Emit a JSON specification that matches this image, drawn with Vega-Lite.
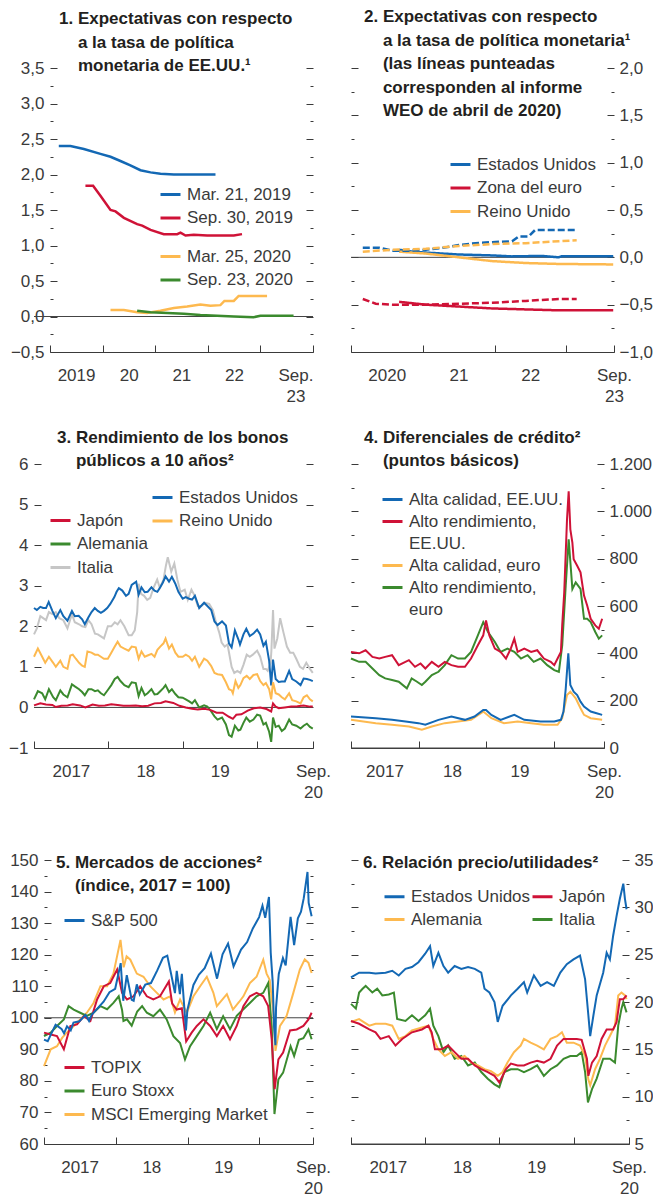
{
"$schema":"https://vega.github.io/schema/vega-lite/v6.json",
"padding":{"left":8,"top":8,"right":0,"bottom":0},
"autosize":"pad",
"bounds":"flush",
"columns":2,
"spacing":{"row":112,"column":38},
"resolve":{"scale":{"color":"independent","stroke":"independent","strokeDash":"independent"}},
"config":{
 "font":"Liberation Sans",
 "locale":{"number":{"decimal":",","thousands":".","grouping":[3],"currency":["","€"]}},
 "view":{"stroke":null},
 "axis":{"labelFont":"Liberation Sans","labelFontSize":17,"labelColor":"#3a3a3a","tickColor":"#3a3a3a","domainColor":"#3a3a3a","domainWidth":1,"tickWidth":1,"grid":false,"labelOverlap":false,"labelFlush":false},
 "legend":{"symbolType":"stroke","symbolSize":400,"symbolStrokeWidth":3,"labelFontSize":17,"labelFont":"Liberation Sans","labelColor":"#3a3a3a","rowPadding":3.5,"padding":0,"labelOffset":5,"labelLimit":400},
 "title":{"font":"Liberation Sans","fontSize":17,"fontWeight":"bold","color":"#231f20","anchor":"start","frame":"group","baseline":"top","lineHeight":23.5}
},
"datasets":{
"p1":[
{"s":"Mar. 21, 2019","d":"2019-03-03","v":2.40},{"s":"Mar. 21, 2019","d":"2019-05-23","v":2.40},{"s":"Mar. 21, 2019","d":"2019-08-24","v":2.36},{"s":"Mar. 21, 2019","d":"2019-12-17","v":2.29},{"s":"Mar. 21, 2019","d":"2020-02-25","v":2.25},{"s":"Mar. 21, 2019","d":"2020-05-04","v":2.19},{"s":"Mar. 21, 2019","d":"2020-07-12","v":2.13},{"s":"Mar. 21, 2019","d":"2020-09-20","v":2.06},{"s":"Mar. 21, 2019","d":"2020-11-29","v":2.03},{"s":"Mar. 21, 2019","d":"2021-02-06","v":2.01},{"s":"Mar. 21, 2019","d":"2021-05-10","v":2.00},{"s":"Mar. 21, 2019","d":"2022-02-23","v":2.00},
{"s":"Sep. 30, 2019","d":"2019-09-04","v":1.84},{"s":"Sep. 30, 2019","d":"2019-10-27","v":1.84},{"s":"Sep. 30, 2019","d":"2019-12-17","v":1.70},{"s":"Sep. 30, 2019","d":"2020-02-25","v":1.50},{"s":"Sep. 30, 2019","d":"2020-03-31","v":1.48},{"s":"Sep. 30, 2019","d":"2020-05-28","v":1.39},{"s":"Sep. 30, 2019","d":"2020-08-28","v":1.30},{"s":"Sep. 30, 2019","d":"2020-10-02","v":1.28},{"s":"Sep. 30, 2019","d":"2020-11-29","v":1.22},{"s":"Sep. 30, 2019","d":"2021-03-01","v":1.16},{"s":"Sep. 30, 2019","d":"2021-06-02","v":1.16},{"s":"Sep. 30, 2019","d":"2021-06-25","v":1.18},{"s":"Sep. 30, 2019","d":"2021-07-30","v":1.14},{"s":"Sep. 30, 2019","d":"2021-09-25","v":1.15},{"s":"Sep. 30, 2019","d":"2021-12-27","v":1.14},{"s":"Sep. 30, 2019","d":"2022-06-30","v":1.14},{"s":"Sep. 30, 2019","d":"2022-08-26","v":1.16},
{"s":"Mar. 25, 2020","d":"2020-02-25","v":0.09},{"s":"Mar. 25, 2020","d":"2020-05-28","v":0.09},{"s":"Mar. 25, 2020","d":"2020-08-28","v":0.06},{"s":"Mar. 25, 2020","d":"2020-11-05","v":0.05},{"s":"Mar. 25, 2020","d":"2021-02-06","v":0.08},{"s":"Mar. 25, 2020","d":"2021-05-10","v":0.12},{"s":"Mar. 25, 2020","d":"2021-08-10","v":0.14},{"s":"Mar. 25, 2020","d":"2021-11-10","v":0.17},{"s":"Mar. 25, 2020","d":"2022-01-19","v":0.15},{"s":"Mar. 25, 2020","d":"2022-03-29","v":0.16},{"s":"Mar. 25, 2020","d":"2022-04-26","v":0.22},{"s":"Mar. 25, 2020","d":"2022-06-30","v":0.22},{"s":"Mar. 25, 2020","d":"2022-08-03","v":0.29},{"s":"Mar. 25, 2020","d":"2023-02-16","v":0.29},
{"s":"Sep. 23, 2020","d":"2020-08-28","v":0.08},{"s":"Sep. 23, 2020","d":"2020-11-29","v":0.06},{"s":"Sep. 23, 2020","d":"2021-03-25","v":0.05},{"s":"Sep. 23, 2020","d":"2021-07-18","v":0.04},{"s":"Sep. 23, 2020","d":"2021-11-10","v":0.02},{"s":"Sep. 23, 2020","d":"2022-03-06","v":0.01},{"s":"Sep. 23, 2020","d":"2022-06-30","v":0.0},{"s":"Sep. 23, 2020","d":"2022-11-14","v":-0.01},{"s":"Sep. 23, 2020","d":"2023-01-01","v":0.01},{"s":"Sep. 23, 2020","d":"2023-08-19","v":0.01}
],
"p2":[
{"s":"Estados Unidos","t":"a","d":"2020-09-02","v":0.08},{"s":"Estados Unidos","t":"a","d":"2020-11-08","v":0.06},{"s":"Estados Unidos","t":"a","d":"2021-01-16","v":0.05},{"s":"Estados Unidos","t":"a","d":"2021-04-10","v":0.04},{"s":"Estados Unidos","t":"a","d":"2021-07-03","v":0.03},{"s":"Estados Unidos","t":"a","d":"2021-09-26","v":0.025},{"s":"Estados Unidos","t":"a","d":"2021-12-20","v":0.02},{"s":"Estados Unidos","t":"a","d":"2022-03-31","v":0.01},{"s":"Estados Unidos","t":"a","d":"2022-08-30","v":0.015},{"s":"Estados Unidos","t":"a","d":"2022-11-23","v":0.0},{"s":"Estados Unidos","t":"a","d":"2022-12-09","v":0.012},{"s":"Estados Unidos","t":"a","d":"2023-08-28","v":0.012},
{"s":"Zona del euro","t":"a","d":"2020-09-02","v":-0.47},{"s":"Zona del euro","t":"a","d":"2021-01-16","v":-0.50},{"s":"Zona del euro","t":"a","d":"2021-07-03","v":-0.52},{"s":"Zona del euro","t":"a","d":"2021-12-20","v":-0.54},{"s":"Zona del euro","t":"a","d":"2022-06-08","v":-0.55},{"s":"Zona del euro","t":"a","d":"2022-11-23","v":-0.56},{"s":"Zona del euro","t":"a","d":"2023-08-28","v":-0.56},
{"s":"Reino Unido","t":"a","d":"2020-09-02","v":0.06},{"s":"Reino Unido","t":"a","d":"2021-01-16","v":0.04},{"s":"Reino Unido","t":"a","d":"2021-07-03","v":0.0},{"s":"Reino Unido","t":"a","d":"2021-12-20","v":-0.04},{"s":"Reino Unido","t":"a","d":"2022-06-08","v":-0.06},{"s":"Reino Unido","t":"a","d":"2022-11-23","v":-0.07},{"s":"Reino Unido","t":"a","d":"2023-08-28","v":-0.075},
{"s":"Estados Unidos","t":"w","d":"2020-03-01","v":0.10},{"s":"Estados Unidos","t":"w","d":"2020-05-24","v":0.10},{"s":"Estados Unidos","t":"w","d":"2020-07-31","v":0.07},{"s":"Estados Unidos","t":"w","d":"2020-10-23","v":0.07},{"s":"Estados Unidos","t":"w","d":"2021-01-16","v":0.08},{"s":"Estados Unidos","t":"w","d":"2021-04-10","v":0.10},{"s":"Estados Unidos","t":"w","d":"2021-07-03","v":0.13},{"s":"Estados Unidos","t":"w","d":"2021-09-26","v":0.15},{"s":"Estados Unidos","t":"w","d":"2021-12-20","v":0.16},{"s":"Estados Unidos","t":"w","d":"2022-03-31","v":0.17},{"s":"Estados Unidos","t":"w","d":"2022-05-04","v":0.22},{"s":"Estados Unidos","t":"w","d":"2022-06-23","v":0.22},{"s":"Estados Unidos","t":"w","d":"2022-07-27","v":0.29},{"s":"Estados Unidos","t":"w","d":"2023-02-23","v":0.29},
{"s":"Reino Unido","t":"w","d":"2020-03-01","v":0.06},{"s":"Reino Unido","t":"w","d":"2020-07-31","v":0.08},{"s":"Reino Unido","t":"w","d":"2021-01-16","v":0.09},{"s":"Reino Unido","t":"w","d":"2021-07-03","v":0.12},{"s":"Reino Unido","t":"w","d":"2021-12-20","v":0.14},{"s":"Reino Unido","t":"w","d":"2022-06-08","v":0.15},{"s":"Reino Unido","t":"w","d":"2022-11-23","v":0.17},{"s":"Reino Unido","t":"w","d":"2023-02-23","v":0.18},
{"s":"Zona del euro","t":"w","d":"2020-03-01","v":-0.44},{"s":"Zona del euro","t":"w","d":"2020-05-06","v":-0.49},{"s":"Zona del euro","t":"w","d":"2020-07-31","v":-0.50},{"s":"Zona del euro","t":"w","d":"2021-01-16","v":-0.50},{"s":"Zona del euro","t":"w","d":"2021-07-03","v":-0.49},{"s":"Zona del euro","t":"w","d":"2021-12-20","v":-0.48},{"s":"Zona del euro","t":"w","d":"2022-06-08","v":-0.46},{"s":"Zona del euro","t":"w","d":"2022-11-23","v":-0.44},{"s":"Zona del euro","t":"w","d":"2023-02-23","v":-0.44}
],
"p3":[
{"s":"Italia","d":"2017-01-01","v":1.80},{"s":"Italia","d":"2017-01-15","v":1.95},{"s":"Italia","d":"2017-02-01","v":2.25},{"s":"Italia","d":"2017-02-15","v":2.20},{"s":"Italia","d":"2017-03-01","v":2.15},{"s":"Italia","d":"2017-03-15","v":2.35},{"s":"Italia","d":"2017-04-01","v":2.30},{"s":"Italia","d":"2017-04-18","v":2.35},{"s":"Italia","d":"2017-05-05","v":2.20},{"s":"Italia","d":"2017-05-25","v":2.15},{"s":"Italia","d":"2017-06-14","v":1.95},{"s":"Italia","d":"2017-07-06","v":2.30},{"s":"Italia","d":"2017-07-20","v":2.10},{"s":"Italia","d":"2017-08-10","v":2.05},{"s":"Italia","d":"2017-08-25","v":2.00},{"s":"Italia","d":"2017-09-10","v":1.98},{"s":"Italia","d":"2017-09-25","v":2.15},{"s":"Italia","d":"2017-10-10","v":2.05},{"s":"Italia","d":"2017-10-27","v":1.82},{"s":"Italia","d":"2017-11-10","v":1.80},{"s":"Italia","d":"2017-11-25","v":1.75},{"s":"Italia","d":"2017-12-10","v":1.70},{"s":"Italia","d":"2017-12-29","v":2.00},{"s":"Italia","d":"2018-01-15","v":2.00},{"s":"Italia","d":"2018-02-01","v":2.10},{"s":"Italia","d":"2018-02-15","v":2.05},{"s":"Italia","d":"2018-03-01","v":2.15},{"s":"Italia","d":"2018-03-20","v":2.00},{"s":"Italia","d":"2018-04-10","v":1.78},{"s":"Italia","d":"2018-04-25","v":1.78},{"s":"Italia","d":"2018-05-10","v":1.90},{"s":"Italia","d":"2018-05-22","v":2.35},{"s":"Italia","d":"2018-05-29","v":3.05},{"s":"Italia","d":"2018-06-10","v":2.80},{"s":"Italia","d":"2018-06-25","v":2.75},{"s":"Italia","d":"2018-07-10","v":2.65},{"s":"Italia","d":"2018-07-25","v":2.70},{"s":"Italia","d":"2018-08-10","v":2.95},{"s":"Italia","d":"2018-08-28","v":3.15},{"s":"Italia","d":"2018-09-10","v":2.95},{"s":"Italia","d":"2018-09-28","v":3.15},{"s":"Italia","d":"2018-10-10","v":3.50},{"s":"Italia","d":"2018-10-19","v":3.70},{"s":"Italia","d":"2018-11-05","v":3.35},{"s":"Italia","d":"2018-11-20","v":3.55},{"s":"Italia","d":"2018-12-05","v":3.15},{"s":"Italia","d":"2018-12-20","v":2.85},{"s":"Italia","d":"2019-01-10","v":2.90},{"s":"Italia","d":"2019-01-25","v":2.65},{"s":"Italia","d":"2019-02-12","v":2.90},{"s":"Italia","d":"2019-02-28","v":2.75},{"s":"Italia","d":"2019-03-15","v":2.50},{"s":"Italia","d":"2019-04-01","v":2.50},{"s":"Italia","d":"2019-04-20","v":2.58},{"s":"Italia","d":"2019-05-10","v":2.55},{"s":"Italia","d":"2019-05-28","v":2.40},{"s":"Italia","d":"2019-06-12","v":2.10},{"s":"Italia","d":"2019-06-28","v":1.85},{"s":"Italia","d":"2019-07-10","v":1.60},{"s":"Italia","d":"2019-07-25","v":1.50},{"s":"Italia","d":"2019-08-08","v":1.55},{"s":"Italia","d":"2019-08-28","v":1.00},{"s":"Italia","d":"2019-09-10","v":0.85},{"s":"Italia","d":"2019-09-25","v":0.90},{"s":"Italia","d":"2019-10-10","v":0.85},{"s":"Italia","d":"2019-10-25","v":1.05},{"s":"Italia","d":"2019-11-10","v":1.30},{"s":"Italia","d":"2019-11-25","v":1.25},{"s":"Italia","d":"2019-12-10","v":1.30},{"s":"Italia","d":"2019-12-31","v":1.40},{"s":"Italia","d":"2020-01-15","v":1.25},{"s":"Italia","d":"2020-01-31","v":0.95},{"s":"Italia","d":"2020-02-12","v":0.95},{"s":"Italia","d":"2020-02-21","v":0.90},{"s":"Italia","d":"2020-03-06","v":1.10},{"s":"Italia","d":"2020-03-10","v":1.40},{"s":"Italia","d":"2020-03-18","v":2.40},{"s":"Italia","d":"2020-03-25","v":1.45},{"s":"Italia","d":"2020-04-08","v":1.70},{"s":"Italia","d":"2020-04-22","v":2.20},{"s":"Italia","d":"2020-05-08","v":1.85},{"s":"Italia","d":"2020-05-25","v":1.50},{"s":"Italia","d":"2020-06-10","v":1.35},{"s":"Italia","d":"2020-06-25","v":1.35},{"s":"Italia","d":"2020-07-10","v":1.20},{"s":"Italia","d":"2020-07-28","v":1.00},{"s":"Italia","d":"2020-08-12","v":0.95},{"s":"Italia","d":"2020-08-28","v":1.10},{"s":"Italia","d":"2020-09-15","v":0.95},{"s":"Italia","d":"2020-09-29","v":0.85},
{"s":"Estados Unidos","d":"2017-01-01","v":2.45},{"s":"Estados Unidos","d":"2017-01-15","v":2.40},{"s":"Estados Unidos","d":"2017-02-01","v":2.48},{"s":"Estados Unidos","d":"2017-02-15","v":2.45},{"s":"Estados Unidos","d":"2017-03-01","v":2.45},{"s":"Estados Unidos","d":"2017-03-14","v":2.60},{"s":"Estados Unidos","d":"2017-04-01","v":2.38},{"s":"Estados Unidos","d":"2017-04-18","v":2.20},{"s":"Estados Unidos","d":"2017-05-10","v":2.40},{"s":"Estados Unidos","d":"2017-05-25","v":2.25},{"s":"Estados Unidos","d":"2017-06-14","v":2.14},{"s":"Estados Unidos","d":"2017-07-06","v":2.38},{"s":"Estados Unidos","d":"2017-07-20","v":2.25},{"s":"Estados Unidos","d":"2017-08-08","v":2.26},{"s":"Estados Unidos","d":"2017-08-25","v":2.17},{"s":"Estados Unidos","d":"2017-09-07","v":2.05},{"s":"Estados Unidos","d":"2017-09-25","v":2.22},{"s":"Estados Unidos","d":"2017-10-10","v":2.35},{"s":"Estados Unidos","d":"2017-10-26","v":2.45},{"s":"Estados Unidos","d":"2017-11-10","v":2.38},{"s":"Estados Unidos","d":"2017-11-25","v":2.33},{"s":"Estados Unidos","d":"2017-12-10","v":2.38},{"s":"Estados Unidos","d":"2017-12-26","v":2.45},{"s":"Estados Unidos","d":"2018-01-10","v":2.55},{"s":"Estados Unidos","d":"2018-01-30","v":2.72},{"s":"Estados Unidos","d":"2018-02-10","v":2.85},{"s":"Estados Unidos","d":"2018-02-21","v":2.94},{"s":"Estados Unidos","d":"2018-03-10","v":2.88},{"s":"Estados Unidos","d":"2018-03-28","v":2.75},{"s":"Estados Unidos","d":"2018-04-10","v":2.80},{"s":"Estados Unidos","d":"2018-04-25","v":3.02},{"s":"Estados Unidos","d":"2018-05-17","v":3.10},{"s":"Estados Unidos","d":"2018-05-29","v":2.78},{"s":"Estados Unidos","d":"2018-06-12","v":2.96},{"s":"Estados Unidos","d":"2018-06-28","v":2.84},{"s":"Estados Unidos","d":"2018-07-12","v":2.85},{"s":"Estados Unidos","d":"2018-07-31","v":2.96},{"s":"Estados Unidos","d":"2018-08-15","v":2.88},{"s":"Estados Unidos","d":"2018-08-29","v":2.85},{"s":"Estados Unidos","d":"2018-09-12","v":2.96},{"s":"Estados Unidos","d":"2018-09-25","v":3.08},{"s":"Estados Unidos","d":"2018-10-08","v":3.23},{"s":"Estados Unidos","d":"2018-10-25","v":3.10},{"s":"Estados Unidos","d":"2018-11-08","v":3.22},{"s":"Estados Unidos","d":"2018-11-25","v":3.05},{"s":"Estados Unidos","d":"2018-12-10","v":2.85},{"s":"Estados Unidos","d":"2018-12-31","v":2.68},{"s":"Estados Unidos","d":"2019-01-15","v":2.72},{"s":"Estados Unidos","d":"2019-02-01","v":2.68},{"s":"Estados Unidos","d":"2019-02-15","v":2.66},{"s":"Estados Unidos","d":"2019-03-01","v":2.75},{"s":"Estados Unidos","d":"2019-03-22","v":2.45},{"s":"Estados Unidos","d":"2019-04-15","v":2.58},{"s":"Estados Unidos","d":"2019-05-01","v":2.50},{"s":"Estados Unidos","d":"2019-05-20","v":2.40},{"s":"Estados Unidos","d":"2019-06-05","v":2.12},{"s":"Estados Unidos","d":"2019-06-20","v":2.03},{"s":"Estados Unidos","d":"2019-07-12","v":2.12},{"s":"Estados Unidos","d":"2019-07-31","v":2.02},{"s":"Estados Unidos","d":"2019-08-15","v":1.58},{"s":"Estados Unidos","d":"2019-08-28","v":1.48},{"s":"Estados Unidos","d":"2019-09-13","v":1.90},{"s":"Estados Unidos","d":"2019-09-30","v":1.68},{"s":"Estados Unidos","d":"2019-10-08","v":1.55},{"s":"Estados Unidos","d":"2019-10-25","v":1.80},{"s":"Estados Unidos","d":"2019-11-08","v":1.94},{"s":"Estados Unidos","d":"2019-11-25","v":1.76},{"s":"Estados Unidos","d":"2019-12-13","v":1.82},{"s":"Estados Unidos","d":"2019-12-31","v":1.92},{"s":"Estados Unidos","d":"2020-01-15","v":1.80},{"s":"Estados Unidos","d":"2020-01-31","v":1.52},{"s":"Estados Unidos","d":"2020-02-12","v":1.62},{"s":"Estados Unidos","d":"2020-02-28","v":1.15},{"s":"Estados Unidos","d":"2020-03-09","v":0.54},{"s":"Estados Unidos","d":"2020-03-18","v":1.18},{"s":"Estados Unidos","d":"2020-03-31","v":0.70},{"s":"Estados Unidos","d":"2020-04-15","v":0.63},{"s":"Estados Unidos","d":"2020-04-30","v":0.64},{"s":"Estados Unidos","d":"2020-05-15","v":0.64},{"s":"Estados Unidos","d":"2020-06-05","v":0.90},{"s":"Estados Unidos","d":"2020-06-20","v":0.70},{"s":"Estados Unidos","d":"2020-07-10","v":0.64},{"s":"Estados Unidos","d":"2020-07-31","v":0.55},{"s":"Estados Unidos","d":"2020-08-15","v":0.71},{"s":"Estados Unidos","d":"2020-08-31","v":0.70},{"s":"Estados Unidos","d":"2020-09-15","v":0.68},{"s":"Estados Unidos","d":"2020-09-29","v":0.65},
{"s":"Reino Unido","d":"2017-01-01","v":1.25},{"s":"Reino Unido","d":"2017-01-20","v":1.45},{"s":"Reino Unido","d":"2017-02-10","v":1.25},{"s":"Reino Unido","d":"2017-02-25","v":1.10},{"s":"Reino Unido","d":"2017-03-15","v":1.25},{"s":"Reino Unido","d":"2017-04-05","v":1.10},{"s":"Reino Unido","d":"2017-04-18","v":1.00},{"s":"Reino Unido","d":"2017-05-10","v":1.15},{"s":"Reino Unido","d":"2017-05-25","v":1.00},{"s":"Reino Unido","d":"2017-06-14","v":0.95},{"s":"Reino Unido","d":"2017-06-28","v":1.28},{"s":"Reino Unido","d":"2017-07-10","v":1.30},{"s":"Reino Unido","d":"2017-07-25","v":1.20},{"s":"Reino Unido","d":"2017-08-10","v":1.10},{"s":"Reino Unido","d":"2017-08-25","v":1.03},{"s":"Reino Unido","d":"2017-09-07","v":1.00},{"s":"Reino Unido","d":"2017-09-20","v":1.38},{"s":"Reino Unido","d":"2017-10-10","v":1.35},{"s":"Reino Unido","d":"2017-10-27","v":1.30},{"s":"Reino Unido","d":"2017-11-10","v":1.30},{"s":"Reino Unido","d":"2017-11-25","v":1.25},{"s":"Reino Unido","d":"2017-12-10","v":1.20},{"s":"Reino Unido","d":"2017-12-29","v":1.20},{"s":"Reino Unido","d":"2018-01-15","v":1.35},{"s":"Reino Unido","d":"2018-02-01","v":1.50},{"s":"Reino Unido","d":"2018-02-15","v":1.62},{"s":"Reino Unido","d":"2018-03-01","v":1.50},{"s":"Reino Unido","d":"2018-03-20","v":1.45},{"s":"Reino Unido","d":"2018-04-10","v":1.40},{"s":"Reino Unido","d":"2018-04-25","v":1.50},{"s":"Reino Unido","d":"2018-05-15","v":1.48},{"s":"Reino Unido","d":"2018-05-29","v":1.20},{"s":"Reino Unido","d":"2018-06-12","v":1.38},{"s":"Reino Unido","d":"2018-06-28","v":1.25},{"s":"Reino Unido","d":"2018-07-12","v":1.28},{"s":"Reino Unido","d":"2018-07-31","v":1.32},{"s":"Reino Unido","d":"2018-08-15","v":1.25},{"s":"Reino Unido","d":"2018-08-29","v":1.42},{"s":"Reino Unido","d":"2018-09-12","v":1.50},{"s":"Reino Unido","d":"2018-09-28","v":1.58},{"s":"Reino Unido","d":"2018-10-08","v":1.70},{"s":"Reino Unido","d":"2018-10-25","v":1.45},{"s":"Reino Unido","d":"2018-11-08","v":1.55},{"s":"Reino Unido","d":"2018-11-25","v":1.35},{"s":"Reino Unido","d":"2018-12-10","v":1.25},{"s":"Reino Unido","d":"2018-12-31","v":1.25},{"s":"Reino Unido","d":"2019-01-15","v":1.30},{"s":"Reino Unido","d":"2019-02-01","v":1.25},{"s":"Reino Unido","d":"2019-02-15","v":1.15},{"s":"Reino Unido","d":"2019-03-01","v":1.25},{"s":"Reino Unido","d":"2019-03-22","v":1.00},{"s":"Reino Unido","d":"2019-04-15","v":1.20},{"s":"Reino Unido","d":"2019-05-01","v":1.15},{"s":"Reino Unido","d":"2019-05-20","v":1.02},{"s":"Reino Unido","d":"2019-06-05","v":0.85},{"s":"Reino Unido","d":"2019-06-20","v":0.82},{"s":"Reino Unido","d":"2019-07-12","v":0.80},{"s":"Reino Unido","d":"2019-07-31","v":0.62},{"s":"Reino Unido","d":"2019-08-15","v":0.45},{"s":"Reino Unido","d":"2019-08-28","v":0.42},{"s":"Reino Unido","d":"2019-09-03","v":0.35},{"s":"Reino Unido","d":"2019-09-16","v":0.65},{"s":"Reino Unido","d":"2019-09-30","v":0.48},{"s":"Reino Unido","d":"2019-10-10","v":0.55},{"s":"Reino Unido","d":"2019-10-25","v":0.72},{"s":"Reino Unido","d":"2019-11-10","v":0.78},{"s":"Reino Unido","d":"2019-11-25","v":0.70},{"s":"Reino Unido","d":"2019-12-13","v":0.80},{"s":"Reino Unido","d":"2019-12-31","v":0.82},{"s":"Reino Unido","d":"2020-01-15","v":0.65},{"s":"Reino Unido","d":"2020-01-31","v":0.55},{"s":"Reino Unido","d":"2020-02-12","v":0.60},{"s":"Reino Unido","d":"2020-02-28","v":0.45},{"s":"Reino Unido","d":"2020-03-09","v":0.20},{"s":"Reino Unido","d":"2020-03-18","v":0.62},{"s":"Reino Unido","d":"2020-03-31","v":0.35},{"s":"Reino Unido","d":"2020-04-15","v":0.32},{"s":"Reino Unido","d":"2020-04-30","v":0.25},{"s":"Reino Unido","d":"2020-05-15","v":0.20},{"s":"Reino Unido","d":"2020-06-05","v":0.35},{"s":"Reino Unido","d":"2020-06-20","v":0.18},{"s":"Reino Unido","d":"2020-07-10","v":0.15},{"s":"Reino Unido","d":"2020-07-31","v":0.10},{"s":"Reino Unido","d":"2020-08-15","v":0.25},{"s":"Reino Unido","d":"2020-08-31","v":0.30},{"s":"Reino Unido","d":"2020-09-15","v":0.20},{"s":"Reino Unido","d":"2020-09-29","v":0.15},
{"s":"Alemania","d":"2017-01-01","v":0.20},{"s":"Alemania","d":"2017-01-20","v":0.40},{"s":"Alemania","d":"2017-02-10","v":0.35},{"s":"Alemania","d":"2017-02-25","v":0.20},{"s":"Alemania","d":"2017-03-15","v":0.45},{"s":"Alemania","d":"2017-04-05","v":0.25},{"s":"Alemania","d":"2017-04-18","v":0.18},{"s":"Alemania","d":"2017-05-10","v":0.42},{"s":"Alemania","d":"2017-05-25","v":0.32},{"s":"Alemania","d":"2017-06-14","v":0.25},{"s":"Alemania","d":"2017-07-06","v":0.57},{"s":"Alemania","d":"2017-07-20","v":0.52},{"s":"Alemania","d":"2017-08-10","v":0.45},{"s":"Alemania","d":"2017-08-25","v":0.38},{"s":"Alemania","d":"2017-09-07","v":0.30},{"s":"Alemania","d":"2017-09-25","v":0.45},{"s":"Alemania","d":"2017-10-10","v":0.45},{"s":"Alemania","d":"2017-10-27","v":0.40},{"s":"Alemania","d":"2017-11-10","v":0.42},{"s":"Alemania","d":"2017-11-25","v":0.35},{"s":"Alemania","d":"2017-12-10","v":0.30},{"s":"Alemania","d":"2017-12-29","v":0.43},{"s":"Alemania","d":"2018-01-15","v":0.55},{"s":"Alemania","d":"2018-02-01","v":0.70},{"s":"Alemania","d":"2018-02-15","v":0.75},{"s":"Alemania","d":"2018-03-01","v":0.65},{"s":"Alemania","d":"2018-03-20","v":0.55},{"s":"Alemania","d":"2018-04-10","v":0.50},{"s":"Alemania","d":"2018-04-25","v":0.62},{"s":"Alemania","d":"2018-05-15","v":0.60},{"s":"Alemania","d":"2018-05-29","v":0.28},{"s":"Alemania","d":"2018-06-12","v":0.48},{"s":"Alemania","d":"2018-06-28","v":0.30},{"s":"Alemania","d":"2018-07-12","v":0.35},{"s":"Alemania","d":"2018-07-31","v":0.45},{"s":"Alemania","d":"2018-08-15","v":0.32},{"s":"Alemania","d":"2018-08-29","v":0.33},{"s":"Alemania","d":"2018-09-12","v":0.40},{"s":"Alemania","d":"2018-09-28","v":0.48},{"s":"Alemania","d":"2018-10-08","v":0.55},{"s":"Alemania","d":"2018-10-25","v":0.38},{"s":"Alemania","d":"2018-11-08","v":0.45},{"s":"Alemania","d":"2018-11-25","v":0.33},{"s":"Alemania","d":"2018-12-10","v":0.25},{"s":"Alemania","d":"2018-12-31","v":0.24},{"s":"Alemania","d":"2019-01-15","v":0.20},{"s":"Alemania","d":"2019-02-01","v":0.15},{"s":"Alemania","d":"2019-02-15","v":0.10},{"s":"Alemania","d":"2019-03-01","v":0.18},{"s":"Alemania","d":"2019-03-22","v":0.00},{"s":"Alemania","d":"2019-04-15","v":0.05},{"s":"Alemania","d":"2019-05-01","v":0.02},{"s":"Alemania","d":"2019-05-20","v":-0.10},{"s":"Alemania","d":"2019-06-05","v":-0.22},{"s":"Alemania","d":"2019-06-20","v":-0.30},{"s":"Alemania","d":"2019-07-12","v":-0.25},{"s":"Alemania","d":"2019-07-31","v":-0.42},{"s":"Alemania","d":"2019-08-15","v":-0.68},{"s":"Alemania","d":"2019-08-28","v":-0.72},{"s":"Alemania","d":"2019-09-13","v":-0.45},{"s":"Alemania","d":"2019-09-30","v":-0.57},{"s":"Alemania","d":"2019-10-10","v":-0.55},{"s":"Alemania","d":"2019-10-25","v":-0.38},{"s":"Alemania","d":"2019-11-08","v":-0.25},{"s":"Alemania","d":"2019-11-25","v":-0.35},{"s":"Alemania","d":"2019-12-13","v":-0.30},{"s":"Alemania","d":"2019-12-31","v":-0.18},{"s":"Alemania","d":"2020-01-15","v":-0.20},{"s":"Alemania","d":"2020-01-31","v":-0.42},{"s":"Alemania","d":"2020-02-12","v":-0.38},{"s":"Alemania","d":"2020-02-28","v":-0.60},{"s":"Alemania","d":"2020-03-09","v":-0.85},{"s":"Alemania","d":"2020-03-18","v":-0.25},{"s":"Alemania","d":"2020-03-31","v":-0.48},{"s":"Alemania","d":"2020-04-15","v":-0.45},{"s":"Alemania","d":"2020-04-30","v":-0.58},{"s":"Alemania","d":"2020-05-15","v":-0.52},{"s":"Alemania","d":"2020-06-05","v":-0.30},{"s":"Alemania","d":"2020-06-20","v":-0.42},{"s":"Alemania","d":"2020-07-10","v":-0.45},{"s":"Alemania","d":"2020-07-31","v":-0.52},{"s":"Alemania","d":"2020-08-15","v":-0.45},{"s":"Alemania","d":"2020-08-31","v":-0.40},{"s":"Alemania","d":"2020-09-15","v":-0.48},{"s":"Alemania","d":"2020-09-29","v":-0.52},
{"s":"Japón","d":"2017-01-01","v":0.05},{"s":"Japón","d":"2017-02-01","v":0.10},{"s":"Japón","d":"2017-03-01","v":0.07},{"s":"Japón","d":"2017-04-01","v":0.06},{"s":"Japón","d":"2017-04-18","v":0.01},{"s":"Japón","d":"2017-05-15","v":0.04},{"s":"Japón","d":"2017-06-15","v":0.05},{"s":"Japón","d":"2017-07-10","v":0.08},{"s":"Japón","d":"2017-08-15","v":0.05},{"s":"Japón","d":"2017-09-10","v":0.00},{"s":"Japón","d":"2017-10-15","v":0.07},{"s":"Japón","d":"2017-11-15","v":0.04},{"s":"Japón","d":"2017-12-15","v":0.05},{"s":"Japón","d":"2018-01-15","v":0.08},{"s":"Japón","d":"2018-02-15","v":0.06},{"s":"Japón","d":"2018-03-15","v":0.04},{"s":"Japón","d":"2018-04-15","v":0.04},{"s":"Japón","d":"2018-05-15","v":0.05},{"s":"Japón","d":"2018-06-15","v":0.03},{"s":"Japón","d":"2018-07-15","v":0.04},{"s":"Japón","d":"2018-08-15","v":0.10},{"s":"Japón","d":"2018-09-15","v":0.11},{"s":"Japón","d":"2018-10-08","v":0.15},{"s":"Japón","d":"2018-11-15","v":0.11},{"s":"Japón","d":"2018-12-15","v":0.04},{"s":"Japón","d":"2019-01-15","v":0.00},{"s":"Japón","d":"2019-02-15","v":-0.03},{"s":"Japón","d":"2019-03-15","v":-0.05},{"s":"Japón","d":"2019-04-15","v":-0.03},{"s":"Japón","d":"2019-05-15","v":-0.06},{"s":"Japón","d":"2019-06-15","v":-0.13},{"s":"Japón","d":"2019-07-15","v":-0.13},{"s":"Japón","d":"2019-08-15","v":-0.23},{"s":"Japón","d":"2019-09-03","v":-0.28},{"s":"Japón","d":"2019-09-20","v":-0.18},{"s":"Japón","d":"2019-10-15","v":-0.17},{"s":"Japón","d":"2019-11-15","v":-0.08},{"s":"Japón","d":"2019-12-15","v":-0.02},{"s":"Japón","d":"2020-01-15","v":0.00},{"s":"Japón","d":"2020-02-15","v":-0.04},{"s":"Japón","d":"2020-03-09","v":-0.10},{"s":"Japón","d":"2020-03-18","v":0.10},{"s":"Japón","d":"2020-03-31","v":0.02},{"s":"Japón","d":"2020-04-15","v":-0.02},{"s":"Japón","d":"2020-05-15","v":0.00},{"s":"Japón","d":"2020-06-15","v":0.02},{"s":"Japón","d":"2020-07-15","v":0.03},{"s":"Japón","d":"2020-08-15","v":0.05},{"s":"Japón","d":"2020-09-15","v":0.02},{"s":"Japón","d":"2020-09-29","v":0.02}
],
"p4":[
{"s":"Alto rendimiento, euro","d":"2017-01-01","v":378},{"s":"Alto rendimiento, euro","d":"2017-02-14","v":364},{"s":"Alto rendimiento, euro","d":"2017-03-21","v":364},{"s":"Alto rendimiento, euro","d":"2017-04-27","v":336},{"s":"Alto rendimiento, euro","d":"2017-06-03","v":308},{"s":"Alto rendimiento, euro","d":"2017-07-05","v":294},{"s":"Alto rendimiento, euro","d":"2017-08-11","v":287},{"s":"Alto rendimiento, euro","d":"2017-09-16","v":280},{"s":"Alto rendimiento, euro","d":"2017-10-30","v":252},{"s":"Alto rendimiento, euro","d":"2017-11-25","v":294},{"s":"Alto rendimiento, euro","d":"2017-12-24","v":280},{"s":"Alto rendimiento, euro","d":"2018-01-19","v":266},{"s":"Alto rendimiento, euro","d":"2018-02-07","v":280},{"s":"Alto rendimiento, euro","d":"2018-03-14","v":308},{"s":"Alto rendimiento, euro","d":"2018-04-19","v":322},{"s":"Alto rendimiento, euro","d":"2018-05-23","v":350},{"s":"Alto rendimiento, euro","d":"2018-06-28","v":392},{"s":"Alto rendimiento, euro","d":"2018-08-03","v":378},{"s":"Alto rendimiento, euro","d":"2018-09-09","v":378},{"s":"Alto rendimiento, euro","d":"2018-10-12","v":406},{"s":"Alto rendimiento, euro","d":"2018-11-18","v":476},{"s":"Alto rendimiento, euro","d":"2018-12-17","v":532},{"s":"Alto rendimiento, euro","d":"2019-01-12","v":490},{"s":"Alto rendimiento, euro","d":"2019-02-18","v":448},{"s":"Alto rendimiento, euro","d":"2019-03-21","v":406},{"s":"Alto rendimiento, euro","d":"2019-04-27","v":420},{"s":"Alto rendimiento, euro","d":"2019-06-03","v":406},{"s":"Alto rendimiento, euro","d":"2019-07-09","v":378},{"s":"Alto rendimiento, euro","d":"2019-08-14","v":392},{"s":"Alto rendimiento, euro","d":"2019-09-16","v":364},{"s":"Alto rendimiento, euro","d":"2019-10-23","v":378},{"s":"Alto rendimiento, euro","d":"2019-11-28","v":350},{"s":"Alto rendimiento, euro","d":"2020-01-05","v":329},{"s":"Alto rendimiento, euro","d":"2020-01-30","v":322},{"s":"Alto rendimiento, euro","d":"2020-02-17","v":434},{"s":"Alto rendimiento, euro","d":"2020-03-07","v":686},{"s":"Alto rendimiento, euro","d":"2020-03-23","v":882},{"s":"Alto rendimiento, euro","d":"2020-04-12","v":672},{"s":"Alto rendimiento, euro","d":"2020-04-30","v":700},{"s":"Alto rendimiento, euro","d":"2020-05-26","v":672},{"s":"Alto rendimiento, euro","d":"2020-06-14","v":546},{"s":"Alto rendimiento, euro","d":"2020-07-01","v":546},{"s":"Alto rendimiento, euro","d":"2020-07-20","v":532},{"s":"Alto rendimiento, euro","d":"2020-08-14","v":490},{"s":"Alto rendimiento, euro","d":"2020-09-02","v":462},{"s":"Alto rendimiento, euro","d":"2020-09-20","v":476},
{"s":"Alto rendimiento, EE.UU.","d":"2017-01-01","v":406},{"s":"Alto rendimiento, EE.UU.","d":"2017-02-14","v":400},{"s":"Alto rendimiento, EE.UU.","d":"2017-03-21","v":413},{"s":"Alto rendimiento, EE.UU.","d":"2017-04-27","v":385},{"s":"Alto rendimiento, EE.UU.","d":"2017-06-03","v":378},{"s":"Alto rendimiento, EE.UU.","d":"2017-07-05","v":385},{"s":"Alto rendimiento, EE.UU.","d":"2017-08-11","v":392},{"s":"Alto rendimiento, EE.UU.","d":"2017-09-16","v":350},{"s":"Alto rendimiento, EE.UU.","d":"2017-11-10","v":371},{"s":"Alto rendimiento, EE.UU.","d":"2017-12-13","v":343},{"s":"Alto rendimiento, EE.UU.","d":"2018-01-12","v":357},{"s":"Alto rendimiento, EE.UU.","d":"2018-02-07","v":336},{"s":"Alto rendimiento, EE.UU.","d":"2018-03-14","v":364},{"s":"Alto rendimiento, EE.UU.","d":"2018-04-19","v":343},{"s":"Alto rendimiento, EE.UU.","d":"2018-05-23","v":364},{"s":"Alto rendimiento, EE.UU.","d":"2018-06-28","v":350},{"s":"Alto rendimiento, EE.UU.","d":"2018-08-03","v":343},{"s":"Alto rendimiento, EE.UU.","d":"2018-09-09","v":343},{"s":"Alto rendimiento, EE.UU.","d":"2018-10-12","v":378},{"s":"Alto rendimiento, EE.UU.","d":"2018-11-18","v":434},{"s":"Alto rendimiento, EE.UU.","d":"2018-12-17","v":476},{"s":"Alto rendimiento, EE.UU.","d":"2019-01-01","v":539},{"s":"Alto rendimiento, EE.UU.","d":"2019-01-19","v":476},{"s":"Alto rendimiento, EE.UU.","d":"2019-02-18","v":420},{"s":"Alto rendimiento, EE.UU.","d":"2019-03-21","v":406},{"s":"Alto rendimiento, EE.UU.","d":"2019-04-19","v":378},{"s":"Alto rendimiento, EE.UU.","d":"2019-05-15","v":420},{"s":"Alto rendimiento, EE.UU.","d":"2019-06-03","v":462},{"s":"Alto rendimiento, EE.UU.","d":"2019-06-21","v":406},{"s":"Alto rendimiento, EE.UU.","d":"2019-07-27","v":420},{"s":"Alto rendimiento, EE.UU.","d":"2019-09-02","v":406},{"s":"Alto rendimiento, EE.UU.","d":"2019-10-05","v":413},{"s":"Alto rendimiento, EE.UU.","d":"2019-11-10","v":378},{"s":"Alto rendimiento, EE.UU.","d":"2019-12-17","v":364},{"s":"Alto rendimiento, EE.UU.","d":"2020-01-05","v":350},{"s":"Alto rendimiento, EE.UU.","d":"2020-01-23","v":378},{"s":"Alto rendimiento, EE.UU.","d":"2020-02-10","v":406},{"s":"Alto rendimiento, EE.UU.","d":"2020-02-17","v":518},{"s":"Alto rendimiento, EE.UU.","d":"2020-02-28","v":658},{"s":"Alto rendimiento, EE.UU.","d":"2020-03-14","v":966},{"s":"Alto rendimiento, EE.UU.","d":"2020-03-23","v":1085},{"s":"Alto rendimiento, EE.UU.","d":"2020-04-01","v":924},{"s":"Alto rendimiento, EE.UU.","d":"2020-04-12","v":868},{"s":"Alto rendimiento, EE.UU.","d":"2020-04-19","v":798},{"s":"Alto rendimiento, EE.UU.","d":"2020-05-08","v":770},{"s":"Alto rendimiento, EE.UU.","d":"2020-05-26","v":742},{"s":"Alto rendimiento, EE.UU.","d":"2020-06-14","v":644},{"s":"Alto rendimiento, EE.UU.","d":"2020-07-01","v":602},{"s":"Alto rendimiento, EE.UU.","d":"2020-07-20","v":546},{"s":"Alto rendimiento, EE.UU.","d":"2020-08-14","v":518},{"s":"Alto rendimiento, EE.UU.","d":"2020-09-02","v":504},{"s":"Alto rendimiento, EE.UU.","d":"2020-09-20","v":546},
{"s":"Alta calidad, euro","d":"2017-01-01","v":119},{"s":"Alta calidad, euro","d":"2017-05-15","v":105},{"s":"Alta calidad, euro","d":"2017-08-11","v":98},{"s":"Alta calidad, euro","d":"2017-11-10","v":91},{"s":"Alta calidad, euro","d":"2018-01-19","v":77},{"s":"Alta calidad, euro","d":"2018-03-14","v":91},{"s":"Alta calidad, euro","d":"2018-05-23","v":105},{"s":"Alta calidad, euro","d":"2018-08-03","v":112},{"s":"Alta calidad, euro","d":"2018-10-12","v":119},{"s":"Alta calidad, euro","d":"2018-12-17","v":154},{"s":"Alta calidad, euro","d":"2019-01-30","v":126},{"s":"Alta calidad, euro","d":"2019-04-08","v":105},{"s":"Alta calidad, euro","d":"2019-06-21","v":112},{"s":"Alta calidad, euro","d":"2019-09-02","v":105},{"s":"Alta calidad, euro","d":"2019-11-10","v":98},{"s":"Alta calidad, euro","d":"2020-01-23","v":98},{"s":"Alta calidad, euro","d":"2020-02-17","v":126},{"s":"Alta calidad, euro","d":"2020-03-14","v":224},{"s":"Alta calidad, euro","d":"2020-04-01","v":238},{"s":"Alta calidad, euro","d":"2020-04-30","v":210},{"s":"Alta calidad, euro","d":"2020-05-26","v":168},{"s":"Alta calidad, euro","d":"2020-06-14","v":140},{"s":"Alta calidad, euro","d":"2020-07-20","v":126},{"s":"Alta calidad, euro","d":"2020-09-20","v":119},
{"s":"Alta calidad, EE.UU.","d":"2017-01-01","v":133},{"s":"Alta calidad, EE.UU.","d":"2017-05-15","v":126},{"s":"Alta calidad, EE.UU.","d":"2017-08-11","v":119},{"s":"Alta calidad, EE.UU.","d":"2017-10-23","v":112},{"s":"Alta calidad, EE.UU.","d":"2018-01-01","v":105},{"s":"Alta calidad, EE.UU.","d":"2018-02-07","v":98},{"s":"Alta calidad, EE.UU.","d":"2018-04-19","v":119},{"s":"Alta calidad, EE.UU.","d":"2018-06-28","v":133},{"s":"Alta calidad, EE.UU.","d":"2018-09-09","v":119},{"s":"Alta calidad, EE.UU.","d":"2018-10-31","v":133},{"s":"Alta calidad, EE.UU.","d":"2018-12-17","v":161},{"s":"Alta calidad, EE.UU.","d":"2019-01-01","v":161},{"s":"Alta calidad, EE.UU.","d":"2019-01-30","v":140},{"s":"Alta calidad, EE.UU.","d":"2019-03-21","v":119},{"s":"Alta calidad, EE.UU.","d":"2019-06-03","v":140},{"s":"Alta calidad, EE.UU.","d":"2019-07-27","v":119},{"s":"Alta calidad, EE.UU.","d":"2019-10-23","v":112},{"s":"Alta calidad, EE.UU.","d":"2020-01-05","v":112},{"s":"Alta calidad, EE.UU.","d":"2020-02-10","v":119},{"s":"Alta calidad, EE.UU.","d":"2020-02-24","v":154},{"s":"Alta calidad, EE.UU.","d":"2020-03-07","v":250},{"s":"Alta calidad, EE.UU.","d":"2020-03-21","v":400},{"s":"Alta calidad, EE.UU.","d":"2020-04-01","v":266},{"s":"Alta calidad, EE.UU.","d":"2020-04-19","v":238},{"s":"Alta calidad, EE.UU.","d":"2020-05-08","v":224},{"s":"Alta calidad, EE.UU.","d":"2020-05-26","v":196},{"s":"Alta calidad, EE.UU.","d":"2020-06-14","v":175},{"s":"Alta calidad, EE.UU.","d":"2020-07-20","v":154},{"s":"Alta calidad, EE.UU.","d":"2020-08-21","v":147},{"s":"Alta calidad, EE.UU.","d":"2020-09-20","v":140}
],
"p5":[
{"s":"MSCI Emerging Market","d":"2017-01-01","v":84.7},{"s":"MSCI Emerging Market","d":"2017-02-04","v":90.0},{"s":"MSCI Emerging Market","d":"2017-03-08","v":91.0},{"s":"MSCI Emerging Market","d":"2017-04-04","v":93.7},{"s":"MSCI Emerging Market","d":"2017-04-27","v":95.3},{"s":"MSCI Emerging Market","d":"2017-06-01","v":97.4},{"s":"MSCI Emerging Market","d":"2017-07-04","v":99.5},{"s":"MSCI Emerging Market","d":"2017-08-07","v":101.6},{"s":"MSCI Emerging Market","d":"2017-09-10","v":104.7},{"s":"MSCI Emerging Market","d":"2017-10-15","v":110.0},{"s":"MSCI Emerging Market","d":"2017-11-18","v":110.0},{"s":"MSCI Emerging Market","d":"2017-12-20","v":114.0},{"s":"MSCI Emerging Market","d":"2018-01-25","v":124.7},{"s":"MSCI Emerging Market","d":"2018-02-10","v":116.0},{"s":"MSCI Emerging Market","d":"2018-02-25","v":119.5},{"s":"MSCI Emerging Market","d":"2018-03-16","v":118.4},{"s":"MSCI Emerging Market","d":"2018-04-18","v":114.0},{"s":"MSCI Emerging Market","d":"2018-05-22","v":113.0},{"s":"MSCI Emerging Market","d":"2018-06-25","v":110.0},{"s":"MSCI Emerging Market","d":"2018-07-29","v":107.9},{"s":"MSCI Emerging Market","d":"2018-09-01","v":105.8},{"s":"MSCI Emerging Market","d":"2018-10-04","v":106.8},{"s":"MSCI Emerging Market","d":"2018-10-29","v":101.7},{"s":"MSCI Emerging Market","d":"2018-11-24","v":105.8},{"s":"MSCI Emerging Market","d":"2018-12-28","v":101.6},{"s":"MSCI Emerging Market","d":"2019-01-31","v":106.8},{"s":"MSCI Emerging Market","d":"2019-03-06","v":110.0},{"s":"MSCI Emerging Market","d":"2019-04-09","v":113.0},{"s":"MSCI Emerging Market","d":"2019-05-12","v":108.0},{"s":"MSCI Emerging Market","d":"2019-05-30","v":103.7},{"s":"MSCI Emerging Market","d":"2019-07-20","v":107.5},{"s":"MSCI Emerging Market","d":"2019-08-20","v":102.6},{"s":"MSCI Emerging Market","d":"2019-09-20","v":105.0},{"s":"MSCI Emerging Market","d":"2019-10-12","v":106.8},{"s":"MSCI Emerging Market","d":"2019-11-14","v":111.0},{"s":"MSCI Emerging Market","d":"2019-12-18","v":113.0},{"s":"MSCI Emerging Market","d":"2020-01-21","v":118.4},{"s":"MSCI Emerging Market","d":"2020-02-07","v":114.0},{"s":"MSCI Emerging Market","d":"2020-02-23","v":112.0},{"s":"MSCI Emerging Market","d":"2020-03-12","v":101.6},{"s":"MSCI Emerging Market","d":"2020-03-23","v":89.5},{"s":"MSCI Emerging Market","d":"2020-04-15","v":97.4},{"s":"MSCI Emerging Market","d":"2020-05-19","v":100.6},{"s":"MSCI Emerging Market","d":"2020-06-22","v":107.9},{"s":"MSCI Emerging Market","d":"2020-07-25","v":115.3},{"s":"MSCI Emerging Market","d":"2020-08-19","v":118.5},{"s":"MSCI Emerging Market","d":"2020-09-07","v":117.4},{"s":"MSCI Emerging Market","d":"2020-09-23","v":114.2},
{"s":"Euro Stoxx","d":"2017-01-01","v":94.2},{"s":"Euro Stoxx","d":"2017-02-04","v":95.3},{"s":"Euro Stoxx","d":"2017-03-08","v":97.4},{"s":"Euro Stoxx","d":"2017-04-12","v":99.5},{"s":"Euro Stoxx","d":"2017-05-06","v":103.7},{"s":"Euro Stoxx","d":"2017-06-01","v":102.6},{"s":"Euro Stoxx","d":"2017-07-04","v":101.6},{"s":"Euro Stoxx","d":"2017-08-07","v":100.6},{"s":"Euro Stoxx","d":"2017-09-10","v":101.6},{"s":"Euro Stoxx","d":"2017-10-15","v":103.7},{"s":"Euro Stoxx","d":"2017-11-18","v":102.7},{"s":"Euro Stoxx","d":"2017-12-20","v":104.7},{"s":"Euro Stoxx","d":"2018-01-16","v":106.8},{"s":"Euro Stoxx","d":"2018-02-02","v":102.5},{"s":"Euro Stoxx","d":"2018-02-09","v":99.0},{"s":"Euro Stoxx","d":"2018-02-27","v":99.5},{"s":"Euro Stoxx","d":"2018-03-23","v":97.5},{"s":"Euro Stoxx","d":"2018-04-20","v":102.0},{"s":"Euro Stoxx","d":"2018-05-15","v":103.7},{"s":"Euro Stoxx","d":"2018-06-08","v":101.6},{"s":"Euro Stoxx","d":"2018-07-11","v":100.5},{"s":"Euro Stoxx","d":"2018-08-14","v":102.6},{"s":"Euro Stoxx","d":"2018-09-17","v":99.5},{"s":"Euro Stoxx","d":"2018-10-21","v":94.2},{"s":"Euro Stoxx","d":"2018-11-24","v":92.0},{"s":"Euro Stoxx","d":"2018-12-19","v":86.8},{"s":"Euro Stoxx","d":"2019-01-14","v":91.0},{"s":"Euro Stoxx","d":"2019-02-17","v":94.2},{"s":"Euro Stoxx","d":"2019-03-23","v":97.4},{"s":"Euro Stoxx","d":"2019-04-26","v":101.6},{"s":"Euro Stoxx","d":"2019-05-30","v":96.4},{"s":"Euro Stoxx","d":"2019-07-01","v":100.5},{"s":"Euro Stoxx","d":"2019-08-05","v":96.4},{"s":"Euro Stoxx","d":"2019-09-08","v":100.6},{"s":"Euro Stoxx","d":"2019-10-12","v":102.7},{"s":"Euro Stoxx","d":"2019-11-14","v":104.7},{"s":"Euro Stoxx","d":"2019-12-18","v":106.8},{"s":"Euro Stoxx","d":"2020-01-21","v":107.9},{"s":"Euro Stoxx","d":"2020-02-15","v":111.0},{"s":"Euro Stoxx","d":"2020-03-04","v":97.4},{"s":"Euro Stoxx","d":"2020-03-18","v":69.5},{"s":"Euro Stoxx","d":"2020-04-07","v":80.5},{"s":"Euro Stoxx","d":"2020-05-01","v":82.6},{"s":"Euro Stoxx","d":"2020-06-08","v":91.0},{"s":"Euro Stoxx","d":"2020-06-26","v":87.9},{"s":"Euro Stoxx","d":"2020-07-20","v":93.0},{"s":"Euro Stoxx","d":"2020-08-12","v":93.5},{"s":"Euro Stoxx","d":"2020-09-07","v":96.3},{"s":"Euro Stoxx","d":"2020-09-23","v":93.2},
{"s":"TOPIX","d":"2017-01-01","v":95.3},{"s":"TOPIX","d":"2017-02-04","v":94.7},{"s":"TOPIX","d":"2017-03-08","v":94.2},{"s":"TOPIX","d":"2017-04-12","v":90.0},{"s":"TOPIX","d":"2017-05-15","v":97.4},{"s":"TOPIX","d":"2017-06-18","v":97.9},{"s":"TOPIX","d":"2017-07-23","v":100.5},{"s":"TOPIX","d":"2017-08-25","v":99.0},{"s":"TOPIX","d":"2017-09-28","v":105.8},{"s":"TOPIX","d":"2017-11-01","v":110.0},{"s":"TOPIX","d":"2017-12-04","v":111.0},{"s":"TOPIX","d":"2018-01-08","v":115.3},{"s":"TOPIX","d":"2018-02-02","v":107.9},{"s":"TOPIX","d":"2018-02-27","v":105.8},{"s":"TOPIX","d":"2018-04-01","v":106.8},{"s":"TOPIX","d":"2018-05-05","v":110.0},{"s":"TOPIX","d":"2018-06-08","v":106.8},{"s":"TOPIX","d":"2018-07-11","v":105.8},{"s":"TOPIX","d":"2018-08-14","v":106.8},{"s":"TOPIX","d":"2018-09-28","v":111.5},{"s":"TOPIX","d":"2018-10-15","v":104.5},{"s":"TOPIX","d":"2018-11-07","v":102.6},{"s":"TOPIX","d":"2018-12-03","v":103.0},{"s":"TOPIX","d":"2018-12-25","v":92.5},{"s":"TOPIX","d":"2019-01-22","v":95.3},{"s":"TOPIX","d":"2019-02-17","v":97.4},{"s":"TOPIX","d":"2019-03-23","v":99.5},{"s":"TOPIX","d":"2019-04-26","v":97.4},{"s":"TOPIX","d":"2019-05-30","v":94.2},{"s":"TOPIX","d":"2019-07-01","v":97.4},{"s":"TOPIX","d":"2019-08-05","v":93.2},{"s":"TOPIX","d":"2019-09-08","v":97.4},{"s":"TOPIX","d":"2019-10-12","v":103.7},{"s":"TOPIX","d":"2019-11-14","v":106.8},{"s":"TOPIX","d":"2019-12-18","v":107.9},{"s":"TOPIX","d":"2020-01-21","v":106.8},{"s":"TOPIX","d":"2020-02-15","v":103.7},{"s":"TOPIX","d":"2020-03-04","v":93.2},{"s":"TOPIX","d":"2020-03-19","v":77.4},{"s":"TOPIX","d":"2020-04-07","v":86.8},{"s":"TOPIX","d":"2020-05-01","v":89.0},{"s":"TOPIX","d":"2020-06-05","v":96.0},{"s":"TOPIX","d":"2020-07-09","v":96.3},{"s":"TOPIX","d":"2020-08-12","v":97.4},{"s":"TOPIX","d":"2020-09-07","v":99.5},{"s":"TOPIX","d":"2020-09-23","v":101.6},
{"s":"S&P 500","d":"2017-01-01","v":93.1},{"s":"S&P 500","d":"2017-01-20","v":92.6},{"s":"S&P 500","d":"2017-02-15","v":96.0},{"s":"S&P 500","d":"2017-03-01","v":97.8},{"s":"S&P 500","d":"2017-03-31","v":96.5},{"s":"S&P 500","d":"2017-04-13","v":95.1},{"s":"S&P 500","d":"2017-04-28","v":97.3},{"s":"S&P 500","d":"2017-05-17","v":96.0},{"s":"S&P 500","d":"2017-05-31","v":98.5},{"s":"S&P 500","d":"2017-06-30","v":98.9},{"s":"S&P 500","d":"2017-07-31","v":100.9},{"s":"S&P 500","d":"2017-08-18","v":99.0},{"s":"S&P 500","d":"2017-08-31","v":100.9},{"s":"S&P 500","d":"2017-09-29","v":102.9},{"s":"S&P 500","d":"2017-10-31","v":105.1},{"s":"S&P 500","d":"2017-11-30","v":108.1},{"s":"S&P 500","d":"2017-12-29","v":109.2},{"s":"S&P 500","d":"2018-01-26","v":117.3},{"s":"S&P 500","d":"2018-02-08","v":105.4},{"s":"S&P 500","d":"2018-02-26","v":113.5},{"s":"S&P 500","d":"2018-03-23","v":105.7},{"s":"S&P 500","d":"2018-04-02","v":105.4},{"s":"S&P 500","d":"2018-04-18","v":110.6},{"s":"S&P 500","d":"2018-05-03","v":107.4},{"s":"S&P 500","d":"2018-05-31","v":110.5},{"s":"S&P 500","d":"2018-06-29","v":111.0},{"s":"S&P 500","d":"2018-07-31","v":115.0},{"s":"S&P 500","d":"2018-08-29","v":119.0},{"s":"S&P 500","d":"2018-09-20","v":119.7},{"s":"S&P 500","d":"2018-10-10","v":113.7},{"s":"S&P 500","d":"2018-10-29","v":107.8},{"s":"S&P 500","d":"2018-11-07","v":114.9},{"s":"S&P 500","d":"2018-11-23","v":107.5},{"s":"S&P 500","d":"2018-12-03","v":113.9},{"s":"S&P 500","d":"2018-12-24","v":96.0},{"s":"S&P 500","d":"2018-12-31","v":102.4},{"s":"S&P 500","d":"2019-01-31","v":110.4},{"s":"S&P 500","d":"2019-02-28","v":113.7},{"s":"S&P 500","d":"2019-03-29","v":115.7},{"s":"S&P 500","d":"2019-04-30","v":120.3},{"s":"S&P 500","d":"2019-05-31","v":112.4},{"s":"S&P 500","d":"2019-06-28","v":120.1},{"s":"S&P 500","d":"2019-07-26","v":123.5},{"s":"S&P 500","d":"2019-08-23","v":116.3},{"s":"S&P 500","d":"2019-09-30","v":121.6},{"s":"S&P 500","d":"2019-10-31","v":124.0},{"s":"S&P 500","d":"2019-11-29","v":128.3},{"s":"S&P 500","d":"2019-12-31","v":131.9},{"s":"S&P 500","d":"2020-01-17","v":135.5},{"s":"S&P 500","d":"2020-01-31","v":131.7},{"s":"S&P 500","d":"2020-02-19","v":138.3},{"s":"S&P 500","d":"2020-02-28","v":120.6},{"s":"S&P 500","d":"2020-03-09","v":111.4},{"s":"S&P 500","d":"2020-03-16","v":97.2},{"s":"S&P 500","d":"2020-03-23","v":91.3},{"s":"S&P 500","d":"2020-03-26","v":103.2},{"s":"S&P 500","d":"2020-04-09","v":113.9},{"s":"S&P 500","d":"2020-04-30","v":118.9},{"s":"S&P 500","d":"2020-05-14","v":116.6},{"s":"S&P 500","d":"2020-06-08","v":132.0},{"s":"S&P 500","d":"2020-06-26","v":123.0},{"s":"S&P 500","d":"2020-07-15","v":131.5},{"s":"S&P 500","d":"2020-07-31","v":133.6},{"s":"S&P 500","d":"2020-08-14","v":137.9},{"s":"S&P 500","d":"2020-09-02","v":146.2},{"s":"S&P 500","d":"2020-09-08","v":136.4},{"s":"S&P 500","d":"2020-09-23","v":132.2}
],
"p6":[
{"s":"Italia","d":"2017-01-01","v":19.8},{"s":"Italia","d":"2017-01-25","v":19.3},{"s":"Italia","d":"2017-02-10","v":21.0},{"s":"Italia","d":"2017-02-27","v":21.4},{"s":"Italia","d":"2017-03-14","v":21.7},{"s":"Italia","d":"2017-04-16","v":21.0},{"s":"Italia","d":"2017-05-10","v":21.4},{"s":"Italia","d":"2017-06-04","v":20.7},{"s":"Italia","d":"2017-07-06","v":20.8},{"s":"Italia","d":"2017-07-31","v":21.0},{"s":"Italia","d":"2017-08-16","v":18.2},{"s":"Italia","d":"2017-09-26","v":18.0},{"s":"Italia","d":"2017-10-28","v":18.6},{"s":"Italia","d":"2017-11-29","v":18.0},{"s":"Italia","d":"2018-01-01","v":18.6},{"s":"Italia","d":"2018-01-25","v":19.3},{"s":"Italia","d":"2018-02-10","v":17.5},{"s":"Italia","d":"2018-03-07","v":16.4},{"s":"Italia","d":"2018-04-01","v":14.7},{"s":"Italia","d":"2018-04-24","v":15.4},{"s":"Italia","d":"2018-05-26","v":14.0},{"s":"Italia","d":"2018-06-28","v":14.3},{"s":"Italia","d":"2018-07-31","v":13.3},{"s":"Italia","d":"2018-09-02","v":13.6},{"s":"Italia","d":"2018-10-04","v":12.6},{"s":"Italia","d":"2018-11-05","v":11.9},{"s":"Italia","d":"2018-12-08","v":11.3},{"s":"Italia","d":"2019-01-01","v":11.0},{"s":"Italia","d":"2019-01-25","v":12.6},{"s":"Italia","d":"2019-02-27","v":12.9},{"s":"Italia","d":"2019-04-01","v":12.9},{"s":"Italia","d":"2019-05-02","v":12.6},{"s":"Italia","d":"2019-06-04","v":12.9},{"s":"Italia","d":"2019-07-06","v":13.3},{"s":"Italia","d":"2019-08-08","v":12.2},{"s":"Italia","d":"2019-09-10","v":12.9},{"s":"Italia","d":"2019-10-12","v":13.3},{"s":"Italia","d":"2019-11-13","v":14.0},{"s":"Italia","d":"2019-12-16","v":14.3},{"s":"Italia","d":"2020-01-17","v":14.3},{"s":"Italia","d":"2020-02-10","v":14.7},{"s":"Italia","d":"2020-02-27","v":12.6},{"s":"Italia","d":"2020-03-12","v":9.4},{"s":"Italia","d":"2020-04-01","v":10.8},{"s":"Italia","d":"2020-04-24","v":11.9},{"s":"Italia","d":"2020-05-26","v":14.0},{"s":"Italia","d":"2020-06-28","v":14.0},{"s":"Italia","d":"2020-07-23","v":13.6},{"s":"Italia","d":"2020-08-08","v":17.5},{"s":"Italia","d":"2020-08-24","v":19.3},{"s":"Italia","d":"2020-09-02","v":20.0},{"s":"Italia","d":"2020-09-18","v":18.9},
{"s":"Alemania","d":"2017-01-01","v":17.9},{"s":"Alemania","d":"2017-02-10","v":18.2},{"s":"Alemania","d":"2017-04-01","v":17.5},{"s":"Alemania","d":"2017-05-02","v":17.7},{"s":"Alemania","d":"2017-06-20","v":17.7},{"s":"Alemania","d":"2017-07-23","v":17.5},{"s":"Alemania","d":"2017-08-24","v":16.1},{"s":"Alemania","d":"2017-09-26","v":16.4},{"s":"Alemania","d":"2017-10-28","v":17.0},{"s":"Alemania","d":"2017-12-16","v":17.3},{"s":"Alemania","d":"2018-01-17","v":17.5},{"s":"Alemania","d":"2018-02-10","v":16.1},{"s":"Alemania","d":"2018-03-07","v":15.0},{"s":"Alemania","d":"2018-04-08","v":14.3},{"s":"Alemania","d":"2018-05-10","v":14.7},{"s":"Alemania","d":"2018-06-12","v":14.0},{"s":"Alemania","d":"2018-07-14","v":14.3},{"s":"Alemania","d":"2018-08-16","v":13.6},{"s":"Alemania","d":"2018-09-18","v":13.3},{"s":"Alemania","d":"2018-10-20","v":12.9},{"s":"Alemania","d":"2018-11-21","v":12.7},{"s":"Alemania","d":"2018-12-24","v":12.2},{"s":"Alemania","d":"2019-01-17","v":12.6},{"s":"Alemania","d":"2019-02-10","v":13.6},{"s":"Alemania","d":"2019-03-14","v":14.7},{"s":"Alemania","d":"2019-04-16","v":15.4},{"s":"Alemania","d":"2019-05-02","v":16.1},{"s":"Alemania","d":"2019-06-04","v":15.7},{"s":"Alemania","d":"2019-07-06","v":15.4},{"s":"Alemania","d":"2019-08-08","v":15.0},{"s":"Alemania","d":"2019-09-10","v":16.1},{"s":"Alemania","d":"2019-10-12","v":16.4},{"s":"Alemania","d":"2019-11-05","v":16.8},{"s":"Alemania","d":"2019-11-29","v":15.7},{"s":"Alemania","d":"2020-01-01","v":15.7},{"s":"Alemania","d":"2020-02-02","v":15.4},{"s":"Alemania","d":"2020-02-27","v":14.3},{"s":"Alemania","d":"2020-03-14","v":11.8},{"s":"Alemania","d":"2020-03-23","v":11.2},{"s":"Alemania","d":"2020-04-16","v":12.9},{"s":"Alemania","d":"2020-05-10","v":14.0},{"s":"Alemania","d":"2020-06-04","v":15.4},{"s":"Alemania","d":"2020-06-28","v":16.4},{"s":"Alemania","d":"2020-07-23","v":17.5},{"s":"Alemania","d":"2020-08-08","v":20.7},{"s":"Alemania","d":"2020-08-24","v":21.0},{"s":"Alemania","d":"2020-09-10","v":20.7},{"s":"Alemania","d":"2020-09-18","v":20.3},
{"s":"Japón","d":"2017-01-01","v":18.0},{"s":"Japón","d":"2017-02-10","v":17.7},{"s":"Japón","d":"2017-04-01","v":17.1},{"s":"Japón","d":"2017-05-02","v":16.8},{"s":"Japón","d":"2017-05-26","v":16.1},{"s":"Japón","d":"2017-07-06","v":16.4},{"s":"Japón","d":"2017-08-08","v":15.4},{"s":"Japón","d":"2017-09-10","v":16.1},{"s":"Japón","d":"2017-10-28","v":16.8},{"s":"Japón","d":"2017-12-16","v":17.1},{"s":"Japón","d":"2018-01-17","v":17.5},{"s":"Japón","d":"2018-02-02","v":16.8},{"s":"Japón","d":"2018-02-18","v":15.0},{"s":"Japón","d":"2018-03-23","v":15.0},{"s":"Japón","d":"2018-04-24","v":15.4},{"s":"Japón","d":"2018-05-26","v":14.7},{"s":"Japón","d":"2018-06-28","v":14.0},{"s":"Japón","d":"2018-07-31","v":14.0},{"s":"Japón","d":"2018-09-02","v":13.3},{"s":"Japón","d":"2018-10-04","v":12.9},{"s":"Japón","d":"2018-11-05","v":12.6},{"s":"Japón","d":"2018-12-08","v":12.2},{"s":"Japón","d":"2019-01-01","v":11.5},{"s":"Japón","d":"2019-02-02","v":12.9},{"s":"Japón","d":"2019-02-27","v":13.5},{"s":"Japón","d":"2019-04-01","v":13.3},{"s":"Japón","d":"2019-05-02","v":13.3},{"s":"Japón","d":"2019-06-04","v":13.6},{"s":"Japón","d":"2019-07-06","v":13.8},{"s":"Japón","d":"2019-08-08","v":13.6},{"s":"Japón","d":"2019-09-10","v":14.0},{"s":"Japón","d":"2019-10-12","v":15.4},{"s":"Japón","d":"2019-11-13","v":16.1},{"s":"Japón","d":"2019-12-16","v":16.1},{"s":"Japón","d":"2020-01-17","v":16.1},{"s":"Japón","d":"2020-02-10","v":16.0},{"s":"Japón","d":"2020-03-07","v":14.0},{"s":"Japón","d":"2020-03-14","v":12.2},{"s":"Japón","d":"2020-04-01","v":13.6},{"s":"Japón","d":"2020-04-24","v":14.3},{"s":"Japón","d":"2020-05-18","v":16.1},{"s":"Japón","d":"2020-06-12","v":17.1},{"s":"Japón","d":"2020-07-14","v":17.1},{"s":"Japón","d":"2020-07-31","v":17.9},{"s":"Japón","d":"2020-08-16","v":20.3},{"s":"Japón","d":"2020-09-02","v":20.3},{"s":"Japón","d":"2020-09-18","v":20.7},
{"s":"Estados Unidos","d":"2017-01-01","v":22.6},{"s":"Estados Unidos","d":"2017-02-10","v":23.1},{"s":"Estados Unidos","d":"2017-04-01","v":23.1},{"s":"Estados Unidos","d":"2017-05-02","v":23.0},{"s":"Estados Unidos","d":"2017-06-20","v":23.1},{"s":"Estados Unidos","d":"2017-07-23","v":23.3},{"s":"Estados Unidos","d":"2017-08-24","v":22.8},{"s":"Estados Unidos","d":"2017-09-26","v":23.5},{"s":"Estados Unidos","d":"2017-10-28","v":23.7},{"s":"Estados Unidos","d":"2017-11-29","v":24.2},{"s":"Estados Unidos","d":"2018-01-01","v":25.1},{"s":"Estados Unidos","d":"2018-01-25","v":25.9},{"s":"Estados Unidos","d":"2018-02-10","v":23.8},{"s":"Estados Unidos","d":"2018-03-07","v":25.2},{"s":"Estados Unidos","d":"2018-04-01","v":23.8},{"s":"Estados Unidos","d":"2018-04-24","v":23.1},{"s":"Estados Unidos","d":"2018-05-26","v":23.8},{"s":"Estados Unidos","d":"2018-06-28","v":23.5},{"s":"Estados Unidos","d":"2018-07-31","v":23.7},{"s":"Estados Unidos","d":"2018-09-02","v":23.5},{"s":"Estados Unidos","d":"2018-10-04","v":23.1},{"s":"Estados Unidos","d":"2018-10-20","v":21.4},{"s":"Estados Unidos","d":"2018-11-13","v":21.0},{"s":"Estados Unidos","d":"2018-12-08","v":20.0},{"s":"Estados Unidos","d":"2018-12-24","v":17.9},{"s":"Estados Unidos","d":"2019-01-17","v":19.6},{"s":"Estados Unidos","d":"2019-02-27","v":20.7},{"s":"Estados Unidos","d":"2019-04-01","v":21.4},{"s":"Estados Unidos","d":"2019-05-02","v":22.1},{"s":"Estados Unidos","d":"2019-05-18","v":21.0},{"s":"Estados Unidos","d":"2019-06-20","v":22.8},{"s":"Estados Unidos","d":"2019-07-23","v":21.7},{"s":"Estados Unidos","d":"2019-08-24","v":22.1},{"s":"Estados Unidos","d":"2019-09-26","v":21.7},{"s":"Estados Unidos","d":"2019-10-28","v":23.1},{"s":"Estados Unidos","d":"2019-11-29","v":24.0},{"s":"Estados Unidos","d":"2020-01-01","v":24.5},{"s":"Estados Unidos","d":"2020-02-02","v":24.9},{"s":"Estados Unidos","d":"2020-02-27","v":22.4},{"s":"Estados Unidos","d":"2020-03-14","v":18.6},{"s":"Estados Unidos","d":"2020-03-23","v":16.4},{"s":"Estados Unidos","d":"2020-04-08","v":18.6},{"s":"Estados Unidos","d":"2020-04-24","v":20.7},{"s":"Estados Unidos","d":"2020-05-26","v":23.1},{"s":"Estados Unidos","d":"2020-06-12","v":25.2},{"s":"Estados Unidos","d":"2020-06-28","v":24.5},{"s":"Estados Unidos","d":"2020-07-14","v":27.0},{"s":"Estados Unidos","d":"2020-07-31","v":29.1},{"s":"Estados Unidos","d":"2020-08-16","v":30.9},{"s":"Estados Unidos","d":"2020-09-02","v":32.5},{"s":"Estados Unidos","d":"2020-09-10","v":30.9},{"s":"Estados Unidos","d":"2020-09-18","v":29.8}
]
},
"concat":[
{
 "width":279,"height":284,
 "title":{"text":["1. Expectativas con respecto","\u200b\u00a0\u00a0\u00a0\u00a0a la tasa de política","\u200b\u00a0\u00a0\u00a0\u00a0monetaria de EE.UU.¹"],"dx":25,"offset":-16},
 "resolve":{"axis":{"y":"independent"}},
 "layer":[
  {"data":{"values":[{"v":0}]},"mark":{"type":"rule","color":"#444444","strokeWidth":1},
   "encoding":{
    "y":{"field":"v","type":"quantitative","scale":{"domain":[-0.5,3.5],"nice":false,"zero":false},"axis":{"orient":"right","values":[-0.5,-0.25,0,0.25,0.5,0.75,1,1.25,1.5,1.75,2,2.25,2.5,2.75,3,3.25,3.5],"labels":false,"domain":false,"tickSize":-7,"tickDash":{"condition":{"test":"abs(datum.value*2-round(datum.value*2))<0.01","value":[]},"value":[3,20]},"title":null}}}},
  {"data":{"name":"p1"},"transform":[{"filter":{"field":"s","oneOf":["Mar. 21, 2019","Sep. 30, 2019"]}}],"mark":{"type":"line","strokeWidth":2.5},
   "encoding":{
    "x":{"field":"d","type":"temporal","scale":{"domain":[{"year":2019,"month":1,"date":1},{"year":2024,"month":1,"date":1}],"range":[16,279]},
      "axis":{"values":[{"year":2019,"month":1,"date":1},{"year":2019,"month":7,"date":1},{"year":2020,"month":1,"date":1},{"year":2020,"month":7,"date":1},{"year":2021,"month":1,"date":1},{"year":2021,"month":7,"date":1},{"year":2022,"month":1,"date":1},{"year":2022,"month":7,"date":1},{"year":2023,"month":1,"date":1},{"year":2023,"month":9,"date":1},{"year":2024,"month":1,"date":1}],
       "labelExpr":"month(datum.value)==6 ? (year(datum.value)==2019 ? '2019' : timeFormat(datum.value,'%y')) : (month(datum.value)==8 ? ['Sep.','23'] : '')",
       "tickOpacity":{"condition":{"test":"month(datum.value)==0","value":1},"value":0},
       "tickSize":-7,"labelPadding":22,"labelLineHeight":21,"labelBaseline":"top","title":null}},
    "y":{"field":"v","type":"quantitative","scale":{"domain":[-0.5,3.5],"nice":false,"zero":false},"axis":{"orient":"left","offset":-16,"values":[-0.5,-0.25,0,0.25,0.5,0.75,1,1.25,1.5,1.75,2,2.25,2.5,2.75,3,3.25,3.5],"format":".1f","labelExpr":"abs(datum.value*2-round(datum.value*2))<0.01 ? datum.label : ''","domain":false,"tickSize":-7,"labelPadding":13,"tickDash":{"condition":{"test":"abs(datum.value*2-round(datum.value*2))<0.01","value":[]},"value":[3,20]},"title":null}},
    "color":{"field":"s","type":"nominal","scale":{"domain":["Mar. 21, 2019","Sep. 30, 2019"],"range":["#1368b4","#cf1237"]},"legend":{"orient":"none","legendX":125,"legendY":115,"title":null}}}},
  {"data":{"name":"p1"},"transform":[{"filter":{"field":"s","oneOf":["Mar. 25, 2020","Sep. 23, 2020"]}}],"mark":{"type":"line","strokeWidth":2.5},
   "encoding":{
    "x":{"field":"d","type":"temporal","scale":{"domain":[{"year":2019,"month":1,"date":1},{"year":2024,"month":1,"date":1}],"range":[16,279]},
      "axis":{"values":[{"year":2019,"month":1,"date":1},{"year":2019,"month":7,"date":1},{"year":2020,"month":1,"date":1},{"year":2020,"month":7,"date":1},{"year":2021,"month":1,"date":1},{"year":2021,"month":7,"date":1},{"year":2022,"month":1,"date":1},{"year":2022,"month":7,"date":1},{"year":2023,"month":1,"date":1},{"year":2023,"month":9,"date":1},{"year":2024,"month":1,"date":1}],
       "labelExpr":"month(datum.value)==6 ? (year(datum.value)==2019 ? '2019' : timeFormat(datum.value,'%y')) : (month(datum.value)==8 ? ['Sep.','23'] : '')",
       "tickOpacity":{"condition":{"test":"month(datum.value)==0","value":1},"value":0},
       "tickSize":-7,"labelPadding":22,"labelLineHeight":21,"labelBaseline":"top","title":null}},
    "y":{"field":"v","type":"quantitative","scale":{"domain":[-0.5,3.5],"nice":false,"zero":false},"axis":null},
    "stroke":{"field":"s","type":"nominal","scale":{"domain":["Mar. 25, 2020","Sep. 23, 2020"],"range":["#fdb94f","#3b8a2e"]},"legend":{"orient":"none","legendX":125,"legendY":177,"title":null}}}}
 ]
},
{
 "width":263,"height":284,
 "title":{"text":["2. Expectativas con respecto","\u200b\u00a0\u00a0\u00a0\u00a0a la tasa de política monetaria¹","\u200b\u00a0\u00a0\u00a0\u00a0(las líneas punteadas","\u200b\u00a0\u00a0\u00a0\u00a0corresponden al informe","\u200b\u00a0\u00a0\u00a0\u00a0WEO de abril de 2020)"],"dx":13,"offset":-61},
 "resolve":{"axis":{"y":"independent"}},
 "layer":[
  {"data":{"values":[{"v":0}]},"mark":{"type":"rule","color":"#444444","strokeWidth":1},
   "encoding":{
    "y":{"field":"v","type":"quantitative","scale":{"domain":[-1,2],"nice":false,"zero":false},"axis":{"orient":"left","values":[-1,-0.75,-0.5,-0.25,0,0.25,0.5,0.75,1,1.25,1.5,1.75,2],"labels":false,"domain":false,"tickSize":-7,"tickDash":{"condition":{"test":"abs(datum.value*2-round(datum.value*2))<0.01","value":[]},"value":[3,20]},"title":null}}}},
  {"data":{"name":"p2"},"mark":{"type":"line","strokeWidth":2.5},
   "encoding":{
    "x":{"field":"d","type":"temporal","scale":{"domain":[{"year":2020,"month":1,"date":1},{"year":2023,"month":9,"date":1}]},
      "axis":{"values":[{"year":2020,"month":1,"date":1},{"year":2020,"month":7,"date":1},{"year":2021,"month":1,"date":1},{"year":2021,"month":7,"date":1},{"year":2022,"month":1,"date":1},{"year":2022,"month":7,"date":1},{"year":2023,"month":1,"date":1},{"year":2023,"month":9,"date":1}],
       "labelExpr":"month(datum.value)==6 ? (year(datum.value)==2020 ? '2020' : timeFormat(datum.value,'%y')) : (month(datum.value)==8 ? ['Sep.','23'] : '')",
       "tickOpacity":{"condition":{"test":"month(datum.value)!=6","value":1},"value":0},
       "tickSize":-7,"labelPadding":22,"labelLineHeight":21,"labelBaseline":"top","title":null}},
    "y":{"field":"v","type":"quantitative","scale":{"domain":[-1,2],"nice":false,"zero":false},"axis":{"orient":"right","values":[-1,-0.75,-0.5,-0.25,0,0.25,0.5,0.75,1,1.25,1.5,1.75,2],"format":".1f","labelExpr":"abs(datum.value*2-round(datum.value*2))<0.01 ? datum.label : ''","domain":false,"tickSize":-7,"labelPadding":12,"tickDash":{"condition":{"test":"abs(datum.value*2-round(datum.value*2))<0.01","value":[]},"value":[3,20]},"title":null}},
    "color":{"field":"s","type":"nominal","scale":{"domain":["Estados Unidos","Zona del euro","Reino Unido"],"range":["#1368b4","#cf1237","#fdb94f"]},"legend":{"orient":"none","legendX":98,"legendY":85,"title":null}},
    "strokeDash":{"field":"t","type":"nominal","scale":{"domain":["a","w"],"range":[[1,0],[7,3]]},"legend":null}}}
 ]
},
{
 "width":279,"height":284,
 "title":{"text":["3. Rendimiento de los bonos","\u200b\u00a0\u00a0\u00a0\u00a0públicos a 10 años²"],"dx":23,"offset":-15},
 "resolve":{"axis":{"y":"independent"}},
 "layer":[
  {"data":{"values":[{"v":0}]},"mark":{"type":"rule","color":"#444444","strokeWidth":1},
   "encoding":{
    "y":{"field":"v","type":"quantitative","scale":{"domain":[-1,6],"nice":false,"zero":false},"axis":{"orient":"right","values":[-1,0,1,2,3,4,5,6],"labels":false,"domain":false,"tickSize":-7,"title":null}}}},
  {"data":{"name":"p3"},"transform":[{"filter":{"field":"s","oneOf":["Italia"]}}],"mark":{"type":"line","strokeWidth":2},
   "encoding":{
    "x":{"field":"d","type":"temporal","scale":{"domain":[{"year":2017,"month":1,"date":1},{"year":2020,"month":9,"date":30}]},
      "axis":{"values":[{"year":2017,"month":1,"date":1},{"year":2017,"month":7,"date":1},{"year":2018,"month":1,"date":1},{"year":2018,"month":7,"date":1},{"year":2019,"month":1,"date":1},{"year":2019,"month":7,"date":1},{"year":2020,"month":1,"date":1},{"year":2020,"month":9,"date":30}],
       "labelExpr":"month(datum.value)==6 ? (year(datum.value)==2017 ? '2017' : timeFormat(datum.value,'%y')) : (month(datum.value)==8 ? ['Sep.','20'] : '')",
       "tickOpacity":{"condition":{"test":"month(datum.value)!=6","value":1},"value":0},
       "tickSize":-7,"labelPadding":22,"labelLineHeight":21,"labelBaseline":"top","title":null}},
    "y":{"field":"v","type":"quantitative","scale":{"domain":[-1,6],"nice":false,"zero":false},"axis":{"orient":"left","values":[-1,0,1,2,3,4,5,6],"format":"d","domain":false,"tickSize":-7,"labelPadding":13,"title":null}},
    "color":{"field":"s","type":"nominal","scale":{"domain":["Japón","Alemania","Italia"],"range":["#cf1237","#3b8a2e","#c6c6c6"]},"legend":{"orient":"none","legendX":15,"legendY":45,"title":null}}}},
  {"data":{"name":"p3"},"transform":[{"filter":{"field":"s","oneOf":["Estados Unidos","Reino Unido"]}}],"mark":{"type":"line","strokeWidth":2},
   "encoding":{
    "x":{"field":"d","type":"temporal","scale":{"domain":[{"year":2017,"month":1,"date":1},{"year":2020,"month":9,"date":30}]},
      "axis":{"values":[{"year":2017,"month":1,"date":1},{"year":2017,"month":7,"date":1},{"year":2018,"month":1,"date":1},{"year":2018,"month":7,"date":1},{"year":2019,"month":1,"date":1},{"year":2019,"month":7,"date":1},{"year":2020,"month":1,"date":1},{"year":2020,"month":9,"date":30}],
       "labelExpr":"month(datum.value)==6 ? (year(datum.value)==2017 ? '2017' : timeFormat(datum.value,'%y')) : (month(datum.value)==8 ? ['Sep.','20'] : '')",
       "tickOpacity":{"condition":{"test":"month(datum.value)!=6","value":1},"value":0},
       "tickSize":-7,"labelPadding":22,"labelLineHeight":21,"labelBaseline":"top","title":null}},
    "y":{"field":"v","type":"quantitative","scale":{"domain":[-1,6],"nice":false,"zero":false},"axis":null},
    "stroke":{"field":"s","type":"nominal","scale":{"domain":["Estados Unidos","Reino Unido"],"range":["#1368b4","#fdb94f"]},"legend":{"orient":"none","legendX":117,"legendY":22,"title":null}}}},
  {"data":{"name":"p3"},"transform":[{"filter":{"field":"s","oneOf":["Japón","Alemania"]}}],"mark":{"type":"line","strokeWidth":2},
   "encoding":{
    "x":{"field":"d","type":"temporal","scale":{"domain":[{"year":2017,"month":1,"date":1},{"year":2020,"month":9,"date":30}]},
      "axis":{"values":[{"year":2017,"month":1,"date":1},{"year":2017,"month":7,"date":1},{"year":2018,"month":1,"date":1},{"year":2018,"month":7,"date":1},{"year":2019,"month":1,"date":1},{"year":2019,"month":7,"date":1},{"year":2020,"month":1,"date":1},{"year":2020,"month":9,"date":30}],
       "labelExpr":"month(datum.value)==6 ? (year(datum.value)==2017 ? '2017' : timeFormat(datum.value,'%y')) : (month(datum.value)==8 ? ['Sep.','20'] : '')",
       "tickOpacity":{"condition":{"test":"month(datum.value)!=6","value":1},"value":0},
       "tickSize":-7,"labelPadding":22,"labelLineHeight":21,"labelBaseline":"top","title":null}},
    "y":{"field":"v","type":"quantitative","scale":{"domain":[-1,6],"nice":false,"zero":false},"axis":null},
    "color":{"field":"s","type":"nominal","scale":{"domain":["Japón","Alemania","Italia"],"range":["#cf1237","#3b8a2e","#c6c6c6"]},"legend":{"orient":"none","legendX":15,"legendY":45,"title":null}}}}
 ]
},
{
 "width":253,"height":284,
 "title":{"text":["4. Diferenciales de crédito²","\u200b\u00a0\u00a0\u00a0\u00a0(puntos básicos)"],"dx":13,"offset":-15},
 "resolve":{"axis":{"y":"independent"}},
 "layer":[
  {"data":{"values":[{"v":0}]},"mark":{"type":"rule","color":"#444444","strokeWidth":1},
   "encoding":{
    "y":{"field":"v","type":"quantitative","scale":{"domain":[0,1200],"nice":false,"zero":false},"axis":{"orient":"left","values":[0,100,200,300,400,500,600,700,800,900,1000,1100,1200],"labels":false,"domain":false,"tickSize":-7,"tickDash":{"condition":{"test":"datum.value % 200 == 0","value":[]},"value":[3,20]},"title":null}}}},
  {"data":{"name":"p4"},"mark":{"type":"line","strokeWidth":2},
   "encoding":{
    "x":{"field":"d","type":"temporal","scale":{"domain":[{"year":2017,"month":1,"date":1},{"year":2020,"month":9,"date":30}]},
      "axis":{"values":[{"year":2017,"month":1,"date":1},{"year":2017,"month":7,"date":1},{"year":2018,"month":1,"date":1},{"year":2018,"month":7,"date":1},{"year":2019,"month":1,"date":1},{"year":2019,"month":7,"date":1},{"year":2020,"month":1,"date":1},{"year":2020,"month":9,"date":30}],
       "labelExpr":"month(datum.value)==6 ? (year(datum.value)==2017 ? '2017' : timeFormat(datum.value,'%y')) : (month(datum.value)==8 ? ['Sep.','20'] : '')",
       "tickOpacity":{"condition":{"test":"month(datum.value)!=6","value":1},"value":0},
       "tickSize":-7,"labelPadding":22,"labelLineHeight":21,"labelBaseline":"top","title":null}},
    "y":{"field":"v","type":"quantitative","scale":{"domain":[0,1200],"nice":false,"zero":false},"axis":{"orient":"right","values":[0,100,200,300,400,500,600,700,800,900,1000,1100,1200],"format":",.0f","labelExpr":"datum.value % 200 == 0 ? datum.label : ''","domain":false,"tickSize":-7,"labelPadding":12,"tickDash":{"condition":{"test":"datum.value % 200 == 0","value":[]},"value":[3,20]},"title":null}},
    "color":{"field":"s","type":"nominal","scale":{"domain":["Alta calidad, EE.UU.","Alto rendimiento, EE.UU.","_1","Alta calidad, euro","Alto rendimiento, euro","_2"],"range":["#1368b4","#cf1237","rgba(0,0,0,0)","#fdb94f","#3b8a2e","rgba(0,0,0,0)"]},
      "legend":{"orient":"none","legendX":30,"legendY":24,"title":null,"rowPadding":2,"labelExpr":"datum.label=='_1' ? 'EE.UU.' : datum.label=='_2' ? 'euro' : indexof(datum.label,'Alto rendimiento')==0 ? 'Alto rendimiento,' : datum.label"}}}}
 ]
},
{
 "width":279,"height":284,
 "title":{"text":["5. Mercados de acciones²","\u200b\u00a0\u00a0\u00a0\u00a0(índice, 2017 = 100)"],"dx":22,"offset":-44},
 "resolve":{"axis":{"y":"independent"}},
 "layer":[
  {"data":{"values":[{"v":100}]},"mark":{"type":"rule","color":"#444444","strokeWidth":1},
   "encoding":{
    "x":{"datum":{"year":2017,"month":1,"date":1},"type":"temporal","scale":{"domain":[{"year":2017,"month":1,"date":1},{"year":2020,"month":9,"date":30}],"range":[10,279]},
      "axis":{"values":[{"year":2017,"month":1,"date":1},{"year":2017,"month":7,"date":1},{"year":2018,"month":1,"date":1},{"year":2018,"month":7,"date":1},{"year":2019,"month":1,"date":1},{"year":2019,"month":7,"date":1},{"year":2020,"month":1,"date":1},{"year":2020,"month":9,"date":30}],
       "labelExpr":"month(datum.value)==6 ? (year(datum.value)==2017 ? '2017' : timeFormat(datum.value,'%y')) : (month(datum.value)==8 ? ['Sep.','20'] : '')",
       "tickOpacity":{"condition":{"test":"month(datum.value)!=6","value":1},"value":0},
       "tickSize":-7,"labelPadding":22,"labelLineHeight":21,"labelBaseline":"top","title":null}},
    "x2":{"datum":{"year":2020,"month":9,"date":30}},
    "y":{"field":"v","type":"quantitative","scale":{"domain":[60,150],"nice":false,"zero":false},"axis":{"orient":"right","values":[60,65,70,75,80,85,90,95,100,105,110,115,120,125,130,135,140,145,150],"labels":false,"domain":false,"tickSize":-7,"tickDash":{"condition":{"test":"datum.value % 10 == 0","value":[]},"value":[3,20]},"title":null}}}},
  {"data":{"name":"p5"},"transform":[{"filter":{"field":"s","oneOf":["MSCI Emerging Market","Euro Stoxx","TOPIX"]}}],"mark":{"type":"line","strokeWidth":2},
   "encoding":{
    "x":{"field":"d","type":"temporal","scale":{"domain":[{"year":2017,"month":1,"date":1},{"year":2020,"month":9,"date":30}],"range":[10,279]},
      "axis":{"values":[{"year":2017,"month":1,"date":1},{"year":2017,"month":7,"date":1},{"year":2018,"month":1,"date":1},{"year":2018,"month":7,"date":1},{"year":2019,"month":1,"date":1},{"year":2019,"month":7,"date":1},{"year":2020,"month":1,"date":1},{"year":2020,"month":9,"date":30}],
       "labelExpr":"month(datum.value)==6 ? (year(datum.value)==2017 ? '2017' : timeFormat(datum.value,'%y')) : (month(datum.value)==8 ? ['Sep.','20'] : '')",
       "tickOpacity":{"condition":{"test":"month(datum.value)!=6","value":1},"value":0},
       "tickSize":-7,"labelPadding":22,"labelLineHeight":21,"labelBaseline":"top","title":null}},
    "y":{"field":"v","type":"quantitative","scale":{"domain":[60,150],"nice":false,"zero":false},"axis":{"orient":"left","offset":-10,"values":[60,65,70,75,80,85,90,95,100,105,110,115,120,125,130,135,140,145,150],"format":"d","labelExpr":"datum.value % 10 == 0 ? datum.label : ''","domain":false,"tickSize":-7,"labelPadding":13,"tickDash":{"condition":{"test":"datum.value % 10 == 0","value":[]},"value":[3,20]},"title":null}},
    "color":{"field":"s","type":"nominal","scale":{"domain":["TOPIX","Euro Stoxx","MSCI Emerging Market"],"range":["#cf1237","#3b8a2e","#fdb94f"]},"legend":{"orient":"none","legendX":29,"legendY":196,"title":null}}}},
  {"data":{"name":"p5"},"transform":[{"filter":{"field":"s","oneOf":["S&P 500"]}}],"mark":{"type":"line","strokeWidth":2},
   "encoding":{
    "x":{"field":"d","type":"temporal","scale":{"domain":[{"year":2017,"month":1,"date":1},{"year":2020,"month":9,"date":30}],"range":[10,279]},
      "axis":{"values":[{"year":2017,"month":1,"date":1},{"year":2017,"month":7,"date":1},{"year":2018,"month":1,"date":1},{"year":2018,"month":7,"date":1},{"year":2019,"month":1,"date":1},{"year":2019,"month":7,"date":1},{"year":2020,"month":1,"date":1},{"year":2020,"month":9,"date":30}],
       "labelExpr":"month(datum.value)==6 ? (year(datum.value)==2017 ? '2017' : timeFormat(datum.value,'%y')) : (month(datum.value)==8 ? ['Sep.','20'] : '')",
       "tickOpacity":{"condition":{"test":"month(datum.value)!=6","value":1},"value":0},
       "tickSize":-7,"labelPadding":22,"labelLineHeight":21,"labelBaseline":"top","title":null}},
    "y":{"field":"v","type":"quantitative","scale":{"domain":[60,150],"nice":false,"zero":false},"axis":null},
    "stroke":{"field":"s","type":"nominal","scale":{"domain":["S&P 500"],"range":["#1368b4"]},"legend":{"orient":"none","legendX":29,"legendY":49,"title":null}}}}
 ]
},
{
 "width":278,"height":284,
 "title":{"text":["6. Relación precio/utilidades²"],"dx":12,"offset":-21},
 "resolve":{"axis":{"y":"independent"}},
 "layer":[
  {"data":{"values":[{"v":5}]},"mark":{"type":"rule","color":"#444444","strokeWidth":1},
   "encoding":{
    "y":{"field":"v","type":"quantitative","scale":{"domain":[5,35],"nice":false,"zero":false},"axis":{"orient":"left","values":[5,7.5,10,12.5,15,17.5,20,22.5,25,27.5,30,32.5,35],"labels":false,"domain":false,"tickSize":-7,"tickDash":{"condition":{"test":"datum.value % 5 == 0","value":[]},"value":[3,20]},"title":null}}}},
  {"data":{"name":"p6"},"mark":{"type":"line","strokeWidth":2},
   "encoding":{
    "x":{"field":"d","type":"temporal","scale":{"domain":[{"year":2017,"month":1,"date":1},{"year":2020,"month":9,"date":30}]},
      "axis":{"values":[{"year":2017,"month":1,"date":1},{"year":2017,"month":7,"date":1},{"year":2018,"month":1,"date":1},{"year":2018,"month":7,"date":1},{"year":2019,"month":1,"date":1},{"year":2019,"month":7,"date":1},{"year":2020,"month":1,"date":1},{"year":2020,"month":9,"date":30}],
       "labelExpr":"month(datum.value)==6 ? (year(datum.value)==2017 ? '2017' : timeFormat(datum.value,'%y')) : (month(datum.value)==8 ? ['Sep.','20'] : '')",
       "tickOpacity":{"condition":{"test":"month(datum.value)!=6","value":1},"value":0},
       "tickSize":-7,"labelPadding":22,"labelLineHeight":21,"labelBaseline":"top","title":null}},
    "y":{"field":"v","type":"quantitative","scale":{"domain":[5,35],"nice":false,"zero":false},"axis":{"orient":"right","values":[5,7.5,10,12.5,15,17.5,20,22.5,25,27.5,30,32.5,35],"format":"d","labelExpr":"datum.value % 5 == 0 ? datum.label : ''","domain":false,"tickSize":-7,"labelPadding":12,"tickDash":{"condition":{"test":"datum.value % 5 == 0","value":[]},"value":[3,20]},"title":null}},
    "color":{"field":"s","type":"nominal","scale":{"domain":["Estados Unidos","Alemania","Japón","Italia"],"range":["#1368b4","#fdb94f","#cf1237","#3b8a2e"]},"legend":{"orient":"none","legendX":32,"legendY":25,"title":null,"columns":2,"columnPadding":-7,"rowPadding":3}}}}
 ]
}
]
}
